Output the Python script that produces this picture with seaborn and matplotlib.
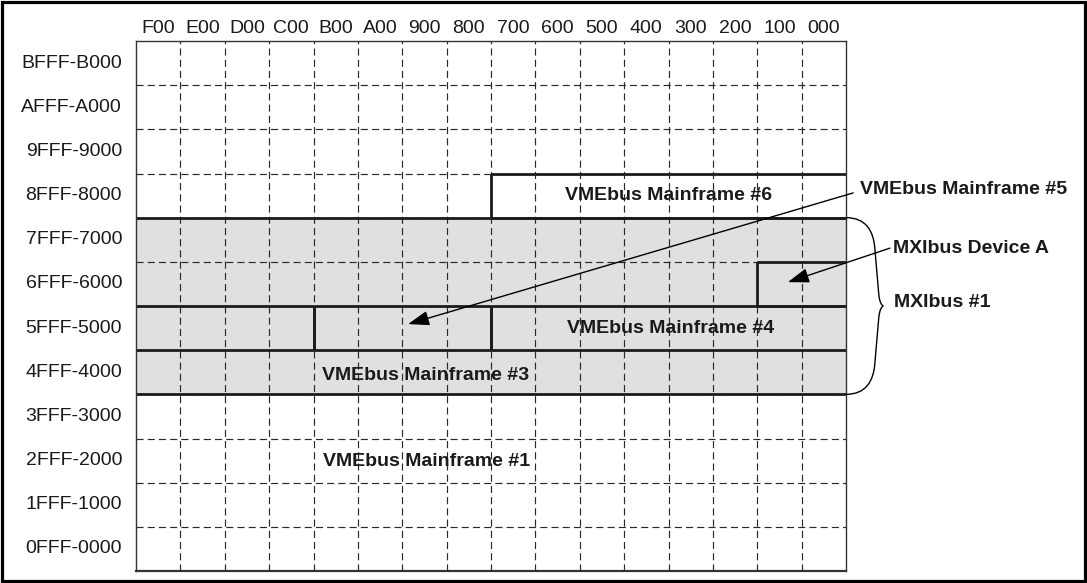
import numpy as np
import pandas as pd
import matplotlib
matplotlib.use("Agg")
import matplotlib.pyplot as plt
import seaborn as sns
from matplotlib.colors import ListedColormap
from matplotlib.patches import Rectangle, PathPatch
from matplotlib.path import Path

# ---------------- data ----------------
col_labels = ["F00", "E00", "D00", "C00", "B00", "A00", "900", "800",
              "700", "600", "500", "400", "300", "200", "100", "000"]
row_labels = ["BFFF-B000", "AFFF-A000", "9FFF-9000", "8FFF-8000",
              "7FFF-7000", "6FFF-6000", "5FFF-5000", "4FFF-4000",
              "3FFF-3000", "2FFF-2000", "1FFF-1000", "0FFF-0000"]
mxibus_rows = ["7FFF-7000", "6FFF-6000", "5FFF-5000", "4FFF-4000"]

box_names = ["VMEbus Mainframe #6", "MXIbus #1", "MXIbus Device A",
             "VMEbus Mainframe #3", "VMEbus Mainframe #5", "VMEbus Mainframe #4"]
box_col_first = ["700", "F00", "100", "F00", "B00", "700"]
box_col_last = ["000", "000", "000", "C00", "800", "000"]
box_row_first = ["8FFF-8000", "7FFF-7000", "6FFF-6000", "5FFF-5000", "5FFF-5000", "5FFF-5000"]
box_row_last = ["8FFF-8000", "4FFF-4000", "6FFF-6000", "5FFF-5000", "5FFF-5000", "5FFF-5000"]

# ---------------- style ----------------
sns.set_theme(style="white")
plt.rcParams["font.family"] = ["Liberation Sans", "DejaVu Sans"]

GRAY = "#e0e0e2"
LINE = "#1c1c1c"

shade = pd.DataFrame(
    [[1 if r in mxibus_rows else 0 for _ in col_labels] for r in row_labels],
    index=row_labels, columns=col_labels)

fig = plt.figure(figsize=(10.87, 5.83), dpi=100)
ax = fig.add_axes([136 / 1087, 1 - 571 / 583, (846 - 136) / 1087, (571 - 41) / 583])

sns.heatmap(shade, cmap=ListedColormap(["white", GRAY]), vmin=0, vmax=1,
            cbar=False, xticklabels=col_labels, yticklabels=row_labels,
            linewidths=0, ax=ax)

ncol, nrow = len(col_labels), len(row_labels)
ax.set_xlim(0, ncol)
ax.set_ylim(nrow, 0)

# dashed grid
dash = (0, (6, 3.5))
for i in range(1, ncol):
    ax.axvline(i, color="#2a2a2a", lw=0.85, ls=dash, zorder=2)
for j in range(1, nrow):
    ax.axhline(j, color="#2a2a2a", lw=0.85, ls=dash, zorder=2)

# solid region outlines
for cf, cl, rf, rl in zip(box_col_first, box_col_last, box_row_first, box_row_last):
    x0 = col_labels.index(cf)
    x1 = col_labels.index(cl) + 1
    y0 = row_labels.index(rf)
    y1 = row_labels.index(rl) + 1
    for y in (y0, y1):
        if 0 < y < nrow:
            ax.hlines(y, x0, x1, color=LINE, lw=2.0, zorder=4)
    for x in (x0, x1):
        if 0 < x < ncol:
            ax.vlines(x, y0, y1, color=LINE, lw=2.0, zorder=4)

# ticks
ax.xaxis.tick_top()
ax.tick_params(axis="x", which="both", length=0, pad=3, labelsize=14,
               labelcolor="#1a1a1a", rotation=0)
ax.tick_params(axis="y", which="both", length=0, pad=10, labelsize=14,
               labelcolor="#1a1a1a", rotation=0)
ax.set_xlabel("")
ax.set_ylabel("")

for s in ax.spines.values():
    s.set_visible(True)
    s.set_color("#333333")
    s.set_linewidth(1.0)
    s.set_zorder(5)
ax.spines["bottom"].set_linewidth(1.6)

# labels inside
bold = dict(fontsize=14, fontweight="bold", color="#1a1a1a", zorder=6)
ax.text(12.0, 3.5, box_names[0], ha="center", va="center", **bold)
ax.text(12.04, 6.5, box_names[5], ha="center", va="center", **bold)
ax.text(4.2, 7.58, box_names[3], ha="left", va="center", **bold)
ax.text(4.22, 9.52, "VMEbus Mainframe #1", ha="left", va="center", **bold)

# right-side labels
ax.text(16.32, 3.37, box_names[4], ha="left", va="center", clip_on=False, **bold)
ax.text(17.06, 4.69, box_names[2], ha="left", va="center", clip_on=False, **bold)
ax.text(17.08, 5.93, box_names[1], ha="left", va="center", clip_on=False, **bold)

arrow = dict(arrowstyle="-|>,head_length=1.3,head_width=0.45", mutation_scale=10,
             lw=1.0, color="black", shrinkA=0, shrinkB=0)
ax.annotate("", xy=(6.13, 6.41), xytext=(16.16, 3.44), arrowprops=arrow,
            annotation_clip=False, zorder=7)
ax.annotate("", xy=(14.69, 5.46), xytext=(16.99, 4.69), arrowprops=arrow,
            annotation_clip=False, zorder=7)

# curly brace for MXIbus #1
verts = [(16.0, 4.0),
         (16.45, 4.0), (16.62, 4.3), (16.65, 4.7),
         (16.74, 5.75),
         (16.76, 5.92), (16.8, 5.98), (16.84, 6.0),
         (16.8, 6.02), (16.76, 6.08), (16.74, 6.25),
         (16.65, 7.3),
         (16.62, 7.7), (16.45, 8.0), (16.0, 8.0)]
codes = [Path.MOVETO,
         Path.CURVE4, Path.CURVE4, Path.CURVE4,
         Path.LINETO,
         Path.CURVE4, Path.CURVE4, Path.CURVE4,
         Path.CURVE4, Path.CURVE4, Path.CURVE4,
         Path.LINETO,
         Path.CURVE4, Path.CURVE4, Path.CURVE4]
ax.add_patch(PathPatch(Path(verts, codes), fill=False, lw=1.0, ec="black",
                       clip_on=False, zorder=6))

# outer frame
fig.patches.append(Rectangle((1.5 / 1087, 2.5 / 583), 1 - 4 / 1087, 1 - 4.5 / 583,
                             transform=fig.transFigure, fill=False, lw=2.3,
                             ec="black", zorder=10))

fig.savefig("out.png", dpi=100)
